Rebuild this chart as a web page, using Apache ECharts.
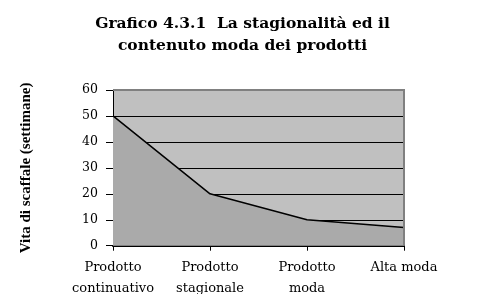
<!DOCTYPE html>
<html><head><meta charset="utf-8">
<script src="https://cdn.jsdelivr.net/npm/echarts@6/dist/echarts.min.js"></script>
<style>html,body{margin:0;padding:0;background:#fff}#c{width:485px;height:294px}</style>
</head><body><div id="c"></div>
<script>
const categories = ['Prodotto\ncontinuativo', 'Prodotto\nstagionale', 'Prodotto\nmoda', 'Alta moda'];
const values = [50, 20, 10, 7];
const yTicks = [0, 10, 20, 30, 40, 50, 60];
const titleText = 'Grafico 4.3.1  La stagionalità ed il\ncontenuto moda dei prodotti';
const yName = 'Vita di scaffale (settimane)';

const chart = echarts.init(document.getElementById('c'), null, {renderer: 'canvas'});
const serif = '"DejaVu Serif", "Liberation Serif", serif';
chart.setOption({
  animation: false,
  backgroundColor: '#fff',
  title: {
    text: titleText, left: 'center', top: 8,
    textStyle: {fontFamily: serif, fontWeight: 'bold', fontSize: 15.5, lineHeight: 22, color: '#000'}
  },
  grid: {left: 113, right: 81, top: 90, bottom: 48.3, show: true, backgroundColor: '#c0c0c0', borderWidth: 0,
         outerBoundsMode: 'none', containLabel: false},
  xAxis: {
    type: 'category', data: categories, boundaryGap: false,
    axisLine: {lineStyle: {color: '#000', width: 2}},
    axisTick: {show: true, alignWithLabel: true, length: 5, lineStyle: {color: '#000'}},
    axisLabel: {fontFamily: serif, fontSize: 13, color: '#000', lineHeight: 20.5, margin: 12, interval: 0},
    splitLine: {show: false}
  },
  yAxis: {
    type: 'value', min: yTicks[0], max: yTicks[yTicks.length - 1], interval: 10,
    name: yName, nameLocation: 'middle', nameGap: 79, nameRotate: 90,
    nameTextStyle: {fontFamily: '"Liberation Serif", serif', fontWeight: 'bold', fontSize: 15, color: '#000'},
    axisLine: {show: true, lineStyle: {color: '#000', width: 1}},
    axisTick: {show: true, length: 7, lineStyle: {color: '#000'}},
    axisLabel: {fontFamily: serif, fontSize: 12.5, color: '#000', margin: 15},
    splitLine: {show: true, lineStyle: {color: '#000', width: 1}}
  },
  series: [{
    type: 'line', data: values, symbol: 'none',
    lineStyle: {color: '#000', width: 1.5},
    areaStyle: {color: '#aaaaaa', opacity: 1},
    z: 3
  }],
  graphic: []
});
const p0 = chart.convertToPixel({xAxisIndex: 0, yAxisIndex: 0}, [0, 60]);
const p1 = chart.convertToPixel({xAxisIndex: 0, yAxisIndex: 0}, [3, 0]);
chart.setOption({graphic: [
  {type: 'polyline', shape: {points: [[p0[0], p0[1]], [p1[0], p0[1]], [p1[0], p1[1]]]}, style: {stroke: '#808080', lineWidth: 2, fill: null}, z: 10}
]});
</script></body></html>
